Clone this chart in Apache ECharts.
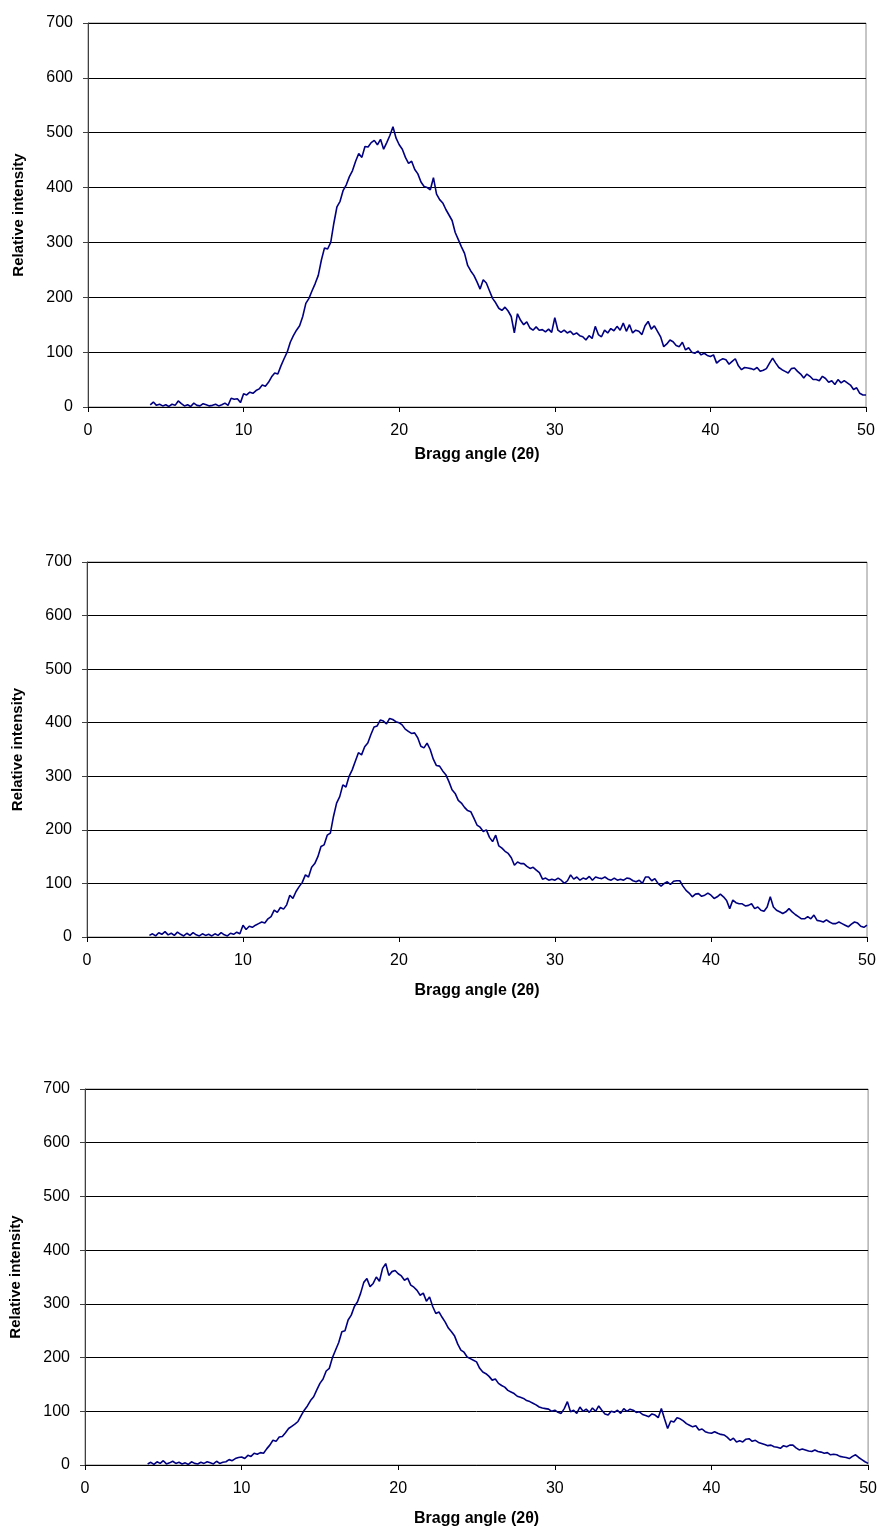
<!DOCTYPE html>
<html>
<head>
<meta charset="utf-8">
<title>XRD patterns</title>
<script src="https://cdn.jsdelivr.net/npm/echarts@6/dist/echarts.min.js"></script>
<style>
  html, body { margin: 0; padding: 0; background: #fff; }
  #chart { width: 880px; height: 1528px; }
</style>
</head>
<body>
<div id="chart"></div>
<script>
// sampling of the scans: 2theta from 4 to 50 in 0.2 steps
var startAngle = 4;
var stepAngle = 0.2;
var xTicks = [0, 10, 20, 30, 40, 50];
var yTicks = [0, 100, 200, 300, 400, 500, 600, 700];

// top pattern
var scanA = [
    4, 9, 3, 5, 2, 4, 1, 5, 3, 11,
    6, 2, 4, 1, 7, 3, 2, 6, 4, 2,
    3, 5, 2, 4, 7, 3, 16, 14, 15, 8,
    24, 22, 27, 25, 30, 33, 40, 38, 45, 55,
    62, 60, 75, 88, 100, 118, 130, 140, 148, 165,
    189, 198, 212, 225, 240, 268, 290, 288, 300, 335,
    365, 375, 395, 405, 420, 431, 448, 462, 455, 475,
    474, 482, 486, 478, 488, 470, 482, 495, 511, 490,
    478, 470, 455, 444, 448, 433, 425, 410, 402, 400,
    396, 418, 388, 378, 372, 360, 350, 340, 318, 305,
    292, 280, 258, 248, 240, 228, 215, 232, 226, 212,
    198, 190, 180, 176, 182, 175, 165, 135, 170, 158,
    150, 155, 144, 140, 146, 140, 141, 137, 142, 136,
    163, 140, 136, 140, 135, 138, 132, 135, 130, 128,
    122, 130, 125, 147, 132, 128, 140, 135, 143, 139,
    147, 140, 153, 138, 150, 135, 140, 138, 132, 148,
    156, 142, 148, 138, 128, 110, 115, 122, 119, 112,
    110, 118, 104, 108, 100, 98, 102, 95, 98, 94,
    92, 95, 80, 85, 88, 86, 78, 83, 88, 75,
    68, 72, 71, 70, 68, 72, 65, 67, 70, 80,
    89, 80, 72, 68, 65, 62, 70, 71, 65, 60,
    53, 60, 56, 50, 50, 48, 56, 52, 45, 48,
    41, 50, 44, 48, 44, 40, 32, 35, 25, 22,
    22
];

// middle pattern
var scanB = [
    3, 6, 2, 8, 5, 10, 4, 7, 3, 9,
    5, 2, 7, 3, 8, 4, 2, 6, 3, 5,
    2, 6, 3, 8, 4, 2, 7, 5, 9, 6,
    22, 14, 20, 18, 22, 25, 28, 26, 34, 38,
    50, 46, 55, 52, 60, 78, 72, 85, 94, 102,
    116, 112, 130, 137, 150, 169, 172, 190, 194, 225,
    250, 262, 284, 280, 300, 312, 328, 344, 340, 355,
    362, 378, 392, 394, 405, 403, 398, 408, 406, 402,
    400, 396, 388, 384, 380, 381, 372, 356, 353, 362,
    350, 332, 320, 319, 310, 303, 290, 275, 268, 255,
    250, 242, 236, 234, 222, 209, 205, 197, 200, 186,
    178, 190, 170, 166, 160, 156, 148, 134, 140, 137,
    137, 132, 128, 130, 125, 120, 108, 110, 106, 108,
    106, 110, 106, 100, 105, 116, 108, 112, 106, 110,
    108, 113, 106, 112, 110, 109, 112, 108, 106, 110,
    106, 108, 106, 110, 109, 105, 103, 106, 100, 112,
    112, 105, 109, 100, 95, 100, 103, 98, 104, 105,
    105, 95, 87, 82, 75, 80, 81, 76, 78, 82,
    78, 72, 75, 80, 75, 68, 53, 69, 64, 62,
    62, 58, 59, 62, 53, 56, 50, 48, 56, 75,
    56, 50, 47, 44, 47, 53, 47, 42, 38, 34,
    34, 38, 34, 41, 31, 30, 28, 32, 28, 25,
    25, 28, 25, 22, 19, 24, 28, 26, 20, 18,
    22
];

// bottom pattern
var scanC = [
    2, 5, 1, 6, 3, 8, 2, 4, 7, 3,
    5, 2, 4, 1, 6, 3, 2, 5, 3, 6,
    4, 2, 7, 3, 5, 6, 10, 8, 12, 14,
    15, 12, 18, 16, 22, 20, 23, 22, 30, 37,
    46, 44, 52, 53, 60, 68, 72, 76, 81, 92,
    102, 110, 120, 127, 140, 152, 160, 175, 180, 200,
    214, 228, 248, 250, 270, 279, 295, 304, 320, 340,
    347, 332, 338, 350, 342, 366, 375, 353, 360, 362,
    356, 352, 344, 348, 335, 331, 325, 316, 320, 305,
    313, 295, 282, 285, 275, 266, 255, 248, 240, 225,
    214, 210, 201, 198, 195, 192, 180, 173, 170, 165,
    158, 160, 152, 148, 145, 139, 136, 133, 128, 126,
    124, 120, 118, 115, 112, 108, 106, 105, 104, 100,
    102, 98, 96, 105, 118, 99, 102, 96, 108, 100,
    104, 98, 106, 100, 110, 102, 95, 93, 100, 98,
    102, 96, 105, 100, 104, 102, 98, 99, 94, 92,
    90, 95, 93, 88, 105, 86, 68, 82, 80, 88,
    86, 82, 77, 74, 71, 73, 65, 67, 62, 60,
    59, 62, 59, 57, 56, 52, 46, 50, 43, 45,
    43, 48, 49, 44, 46, 42, 40, 38, 36, 37,
    34, 33, 31, 36, 34, 37, 37, 32, 28, 30,
    28, 26, 25, 28, 25, 24, 22, 23, 19, 20,
    19, 16, 15, 14, 12, 16, 19, 14, 10, 6,
    3
];

var scans = [scanA, scanB, scanC];
// plot boxes (px) for the three panels, plus gap to the x title
var boxes = [
    {left: 88, top: 23, width: 778, height: 384, titleGap: 40},
    {left: 87, top: 562, width: 780, height: 375, titleGap: 46},
    {left: 84, top: 1089, width: 785, height: 376, titleGap: 46}
];

function toPairs(arr) {
    return arr.map(function (v, i) {
        return [+(startAngle + i * stepAngle).toFixed(2), v];
    });
}

var font = '"Liberation Sans", Arial, sans-serif';
var grids = [], xAxes = [], yAxes = [], series = [];

boxes.forEach(function (b, k) {
    grids.push({
        left: b.left, top: b.top, width: b.width, height: b.height,
        show: true, borderColor: '#8c8c8c', borderWidth: 1, backgroundColor: 'transparent'
    });
    xAxes.push({
        gridIndex: k,
        type: 'value',
        min: xTicks[0], max: xTicks[xTicks.length - 1], interval: 10,
        name: 'Bragg angle (2θ)',
        nameLocation: 'middle',
        nameGap: b.titleGap,
        nameTextStyle: {fontFamily: font, fontWeight: 'bold', fontSize: 16, color: '#000'},
        axisLine: {lineStyle: {color: '#000', width: 1}},
        axisTick: {show: true, inside: false, length: 5, lineStyle: {color: '#000'}},
        axisLabel: {fontFamily: font, fontSize: 16, color: '#000', margin: 16},
        splitLine: {show: false}
    });
    yAxes.push({
        gridIndex: k,
        type: 'value',
        min: yTicks[0], max: yTicks[yTicks.length - 1], interval: 100,
        name: 'Relative intensity',
        nameLocation: 'middle',
        nameGap: 62,
        nameRotate: 90,
        nameTextStyle: {fontFamily: font, fontWeight: 'bold', fontSize: 15, color: '#000'},
        axisLine: {show: true, lineStyle: {color: '#404040', width: 1}},
        axisTick: {show: true, inside: false, length: 5, lineStyle: {color: '#404040'}},
        axisLabel: {fontFamily: font, fontSize: 16, color: '#000', margin: 15},
        splitLine: {show: true, lineStyle: {color: '#000', width: 1}}
    });
    series.push({
        type: 'line',
        xAxisIndex: k,
        yAxisIndex: k,
        data: toPairs(scans[k]),
        showSymbol: false,
        symbol: 'none',
        lineStyle: {color: '#000080', width: 1.6},
        animation: false
    });
});

var myChart = echarts.init(document.getElementById('chart'));
myChart.setOption({
    animation: false,
    grid: grids,
    xAxis: xAxes,
    yAxis: yAxes,
    series: series
});
window.addEventListener('resize', function () {
    myChart.resize();
});
</script>
</body>
</html>
